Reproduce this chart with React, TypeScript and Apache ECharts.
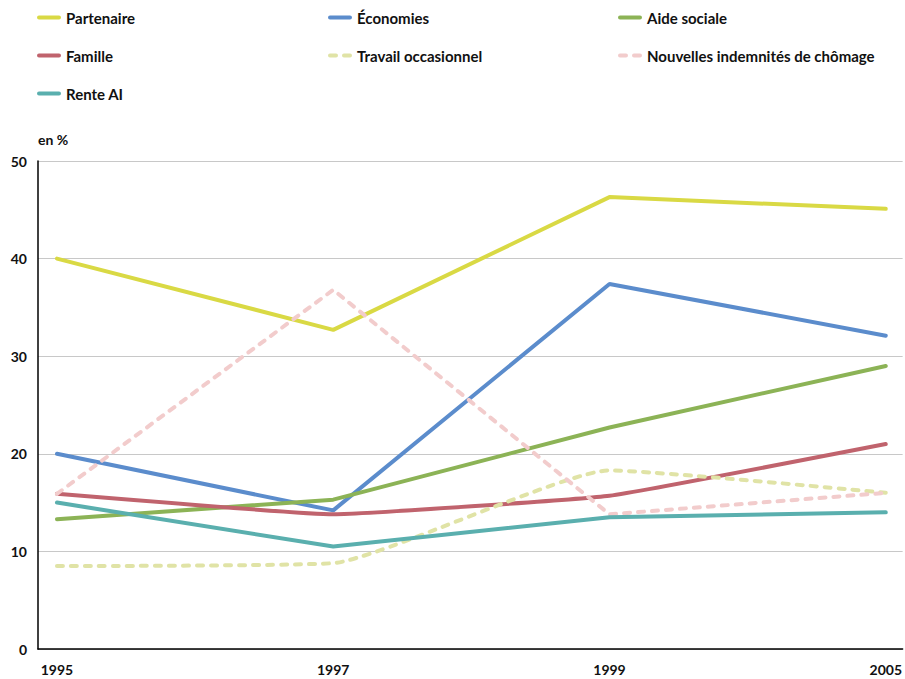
import React, { useEffect, useRef } from "react";
import * as echarts from "echarts";

const categories = ["1995", "1997", "1999", "2005"];
const partenaire = [40.0, 32.7, 46.3, 45.1];
const economies = [20.0, 14.2, 37.4, 32.1];
const aideSociale = [13.3, 15.3, 22.7, 29.0];
const famille = [15.9, 13.8, 15.7, 21.0];
const travailOccasionnel = [8.5, 8.8, 18.3, 16.0];
const nouvellesIndemnites = [15.9, 36.8, 13.8, 16.0];
const renteAI = [15.0, 10.5, 13.5, 14.0];
const yTicks = [0, 10, 20, 30, 40, 50];

const FONT = "Lato";

export default function App() {
  const ref = useRef<HTMLDivElement>(null);
  useEffect(() => {
    document.body.style.margin = "0";
    if (!ref.current) return;
    const chart = echarts.init(ref.current, undefined, { renderer: "svg" });
    const toPairs = (arr: number[]) => arr.map((v, i) => [i, v]);
    const mk = (name: string, data: number[], color: string, dashed = false, smooth: number | boolean = false) => ({
      name,
      type: "line",
      data: toPairs(data),
      symbol: "none",
      smooth,
      lineStyle: { color, width: 4, type: dashed ? [6, 8] : "solid", cap: "round" },
      itemStyle: { color },
    });
    const legendCommon = {
      orient: "vertical",
      itemWidth: 20,
      itemHeight: 2,
      itemGap: 23,
      top: 10,
      padding: 0,
      itemStyle: { opacity: 0 },
      lineStyle: { width: 4, cap: "round" },
      textStyle: { fontFamily: FONT, fontWeight: "bold", fontSize: 15, color: "#111", lineHeight: 14, padding: [0, 0, 0, 2] },
      selectedMode: false,
    };
    chart.setOption({
      animation: false,
      backgroundColor: "#fff",
      grid: { left: 38, right: 0, top: 161, bottom: 30, containLabel: false },
      legend: [
        { ...legendCommon, left: 37, data: ["Partenaire", "Famille", "Rente AI"] },
        { ...legendCommon, left: 328, data: ["Économies", "Travail occasionnel"] },
        { ...legendCommon, left: 618, data: ["Aide sociale", "Nouvelles indemnités de chômage"] },
      ],
      graphic: [
        {
          type: "text",
          left: 38,
          top: 132,
          style: { text: "en %", fontFamily: FONT, fontWeight: "bold", fontSize: 14, fill: "#111" },
        },
      ],
      xAxis: {
        type: "value",
        min: -0.0686,
        max: 3.061,
        splitLine: { show: false },
        axisLine: { show: true, onZero: false, lineStyle: { color: "#000", width: 1.5 } },
        axisTick: { show: false },
        axisLabel: {
          customValues: [0, 1, 2, 3],
          formatter: (v: number) => categories[Math.round(v)] ?? "",
          fontFamily: FONT,
          fontWeight: "bold",
          fontSize: 14,
          color: "#111",
          margin: 13,
        },
      },
      yAxis: {
        type: "value",
        min: 0,
        max: 50,
        interval: 10,
        axisLine: { show: true, onZero: false, lineStyle: { color: "#000", width: 1.5 } },
        axisTick: { show: false },
        splitLine: { show: true, lineStyle: { color: "#c8c8c8", width: 1 } },
        axisLabel: {
          fontFamily: FONT,
          fontWeight: "bold",
          fontSize: 14,
          color: "#111",
          margin: 11,
          padding: [0, 0, 8, 0],
          formatter: (v: number) => (yTicks.includes(v) ? String(v) : ""),
        },
      },
      series: [
        mk("Partenaire", partenaire, "#d9d944"),
        mk("Économies", economies, "#5b8ccc"),
        mk("Aide sociale", aideSociale, "#8cb356"),
        mk("Famille", famille, "#c0636d", false, 0.1),
        mk("Travail occasionnel", travailOccasionnel, "#e0e3a6", true, 0.15),
        mk("Nouvelles indemnités de chômage", nouvellesIndemnites, "#f2cccc", true),
        mk("Rente AI", renteAI, "#5aafae"),
      ],
    });
    return () => chart.dispose();
  }, []);
  return <div ref={ref} style={{ width: 905, height: 679 }} />;
}
